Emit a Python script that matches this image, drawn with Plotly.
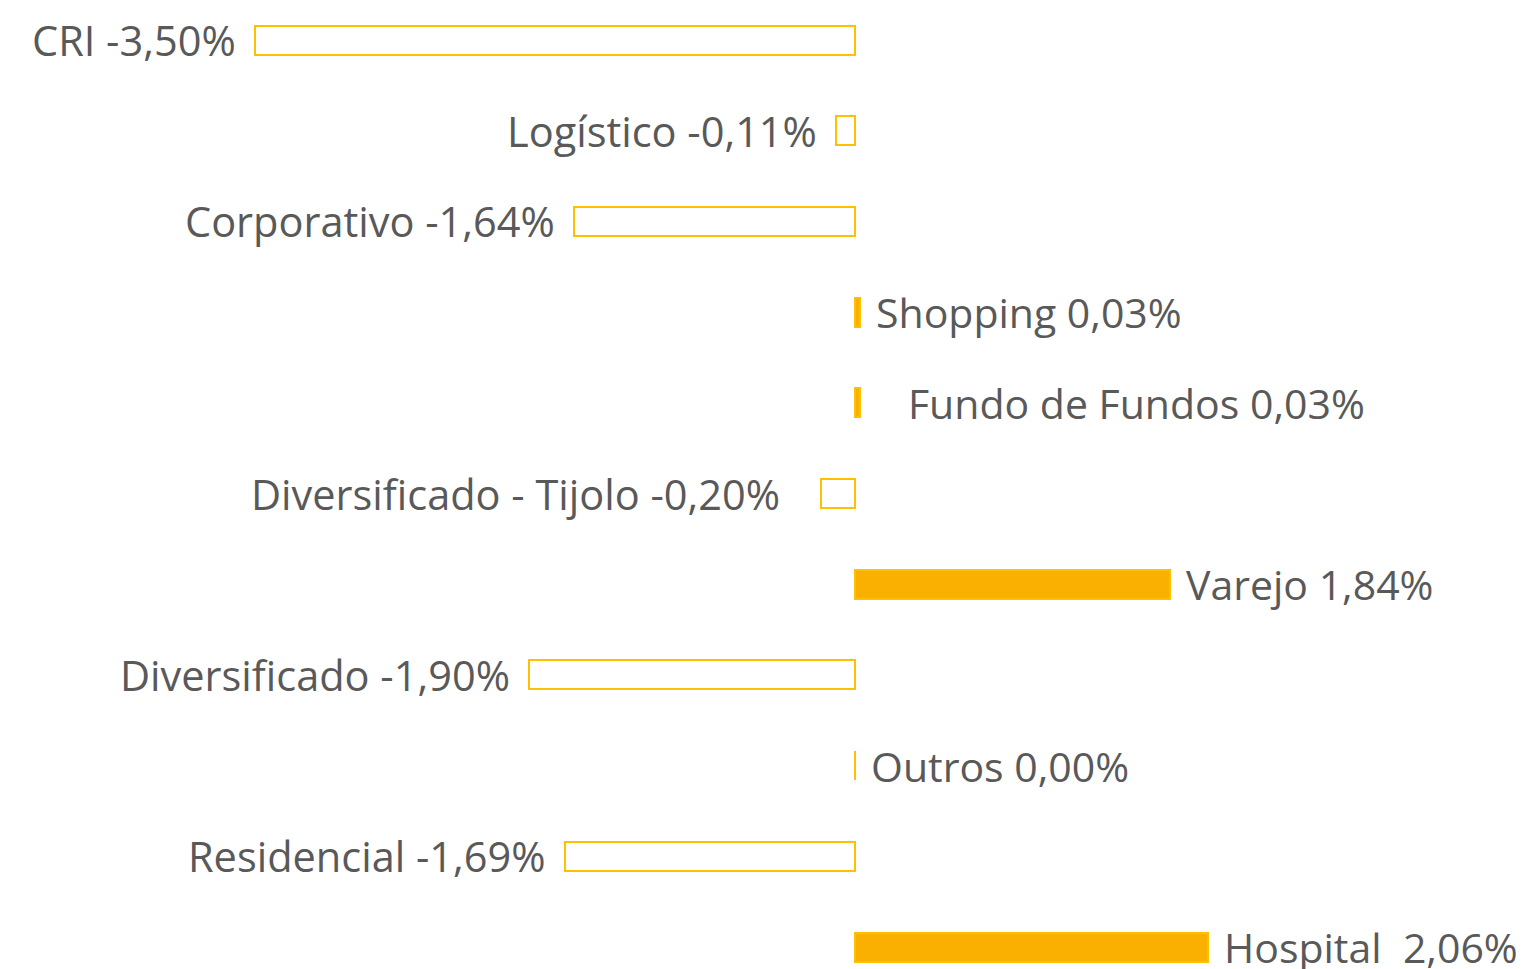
import plotly.graph_objects as go

categories = ["CRI", "Logístico", "Corporativo", "Shopping", "Fundo de Fundos",
              "Diversificado - Tijolo", "Varejo", "Diversificado", "Outros",
              "Residencial", "Hospital"]
values = [-3.50, -0.11, -1.64, 0.03, 0.03, -0.20, 1.84, -1.90, 0.00, -1.69, 2.06]
# displayed label prefixes (spacing as in the original)
label_names = ["CRI", "Logístico", "Corporativo", "Shopping",
               "\u00a0\u00a0\u00a0Fundo de Fundos", "Diversificado - Tijolo",
               "Varejo", "Diversificado", "Outros", "Residencial", "Hospital\u00a0"]
label_suffix = ["", "", "", "", "", "\u00a0\u00a0", "", "", "", "", ""]

FILL = "#FAB000"
LINE = "#FFC000"
TEXT = "#595959"
FONT = "Open Sans"

fill_colors = [FILL if v > 0 else "white" for v in values]

fig = go.Figure()
fig.add_trace(go.Bar(
    x=values, y=categories, orientation="h", width=0.32,
    marker=dict(color=fill_colors, line=dict(color=LINE, width=2)),
    hoverinfo="skip",
))

for cat, v, nm, sfx in zip(categories, values, label_names, label_suffix):
    txt = f"{nm} {v:.2f}".replace(".", ",") + "%" + sfx
    neg = v < 0
    fig.add_annotation(
        x=v, y=cat, text=txt, showarrow=False,
        xanchor="right" if neg else "left", yanchor="middle",
        xshift=-17 if neg else 14, yshift=0,
        font=dict(family=FONT, size=41.5 if neg else 41, color=TEXT),
    )

fig.update_layout(
    width=1531, height=969,
    margin=dict(l=0, r=0, t=0, b=0),
    paper_bgcolor="white", plot_bgcolor="white",
    showlegend=False,
    xaxis=dict(range=[-4.942, 3.99], visible=False, fixedrange=True),
    yaxis=dict(range=[10.33, -0.353], visible=False, fixedrange=True,
               categoryorder="array", categoryarray=categories),
    bargap=0,
)

fig.write_html("out.html")
